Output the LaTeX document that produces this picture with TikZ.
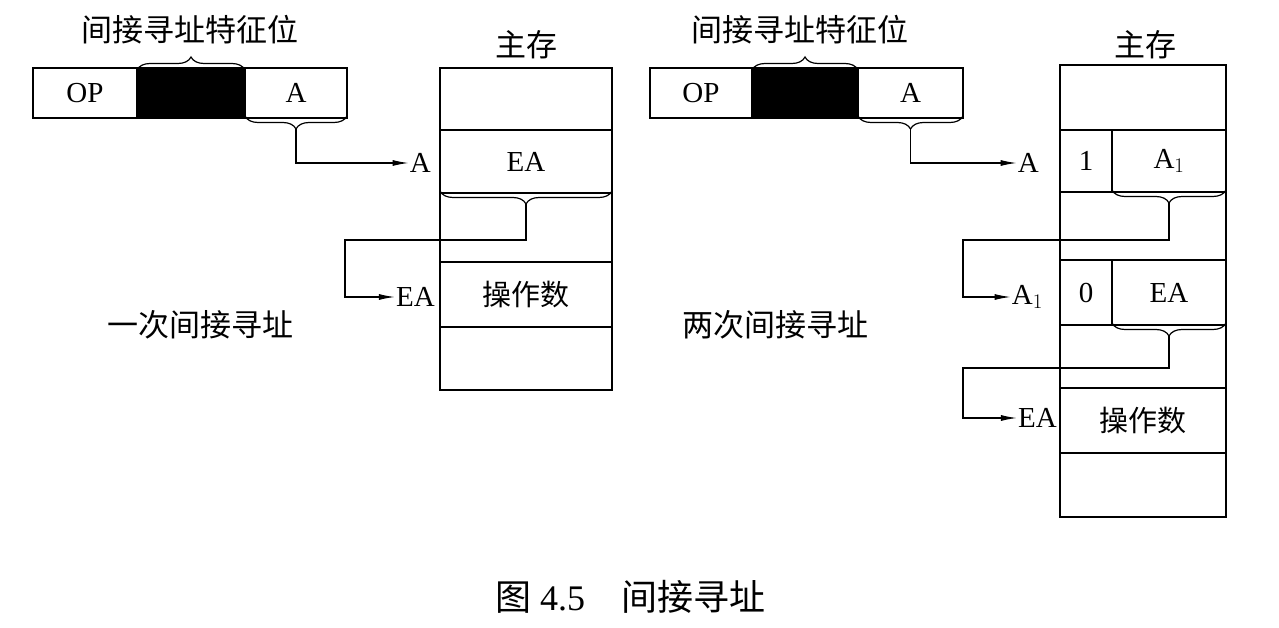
\documentclass[tikz,border=0pt]{standalone}
\usepackage{fontspec}
\setmainfont{Liberation Serif}
\newfontfamily\cjk{Noto Sans CJK SC}
\usetikzlibrary{decorations.pathreplacing,arrows.meta}
\begin{document}
\begin{tikzpicture}[x=1pt,y=-1pt,
 cell/.style={draw,line width=1.3pt,anchor=north west,inner sep=0,outer sep=0,font=\fontsize{29}{30}\selectfont},
 lbl/.style={font=\fontsize{29}{30}\selectfont,inner sep=1pt},
 cjkl/.style={font=\cjk\fontsize{31}{33}\selectfont,inner sep=1pt},
 brc/.style={decorate,decoration={brace,amplitude=13pt},line width=1.2pt},
 conn/.style={line width=1.2pt,-{Latex[length=16pt,width=6pt]}}]
\useasboundingbox (0,0) rectangle (1279,628);
\fill[white] (0,0) rectangle (1279,628);
% ---- left ----
\node[cell,minimum width=104,minimum height=50] (lop) at (33,68) {OP};
\node[cell,fill=black,minimum width=108,minimum height=50] (lblk) at (137,68) {};
\node[cell,minimum width=102,minimum height=50] (la) at (245,68) {A};
\node[cjkl] (ltit) at (190,30) {间接寻址特征位};
\draw[brc] ([yshift=-2]lblk.north west) -- ([yshift=-2]lblk.north east);
\draw[brc] ([yshift=2]la.south east) -- ([yshift=2]la.south west) coordinate[midway,yshift=-13] (lt1);
\node[cjkl] (lmt) at (526,45) {主存};
\node[cell,minimum width=172,minimum height=62] (lm1) at (440,68) {};
\node[cell,minimum width=172,minimum height=63] (lm2) at (440,130) {EA};
\node[cell,minimum width=172,minimum height=69] (lm3) at (440,193) {};
\node[cell,minimum width=172,minimum height=65,font=\cjk\fontsize{29}{30}\selectfont] (lm4) at (440,262) {操作数};
\node[cell,minimum width=172,minimum height=63] (lm5) at (440,327) {};
\node[lbl,anchor=east] (lA) at (432,163) {A};
\node[lbl,anchor=east] (lEA) at (436,297) {EA};
\draw[brc] ([yshift=2]lm2.south east) -- ([yshift=2]lm2.south west) coordinate[midway,yshift=-13] (lt2);
\draw[conn] (lt1) |- (lA.west);
\draw[conn] (lt2) -- (lt2|-0,240) -| (345,297) -- (lEA.west);
\node[cjkl] (l1) at (200,325) {一次间接寻址};
% ---- right ----
\node[cell,minimum width=102,minimum height=50] (rop) at (650,68) {OP};
\node[cell,fill=black,minimum width=106,minimum height=50] (rblk) at (752,68) {};
\node[cell,minimum width=105,minimum height=50] (ra) at (858,68) {A};
\node[cjkl] (rtit) at (800,30) {间接寻址特征位};
\draw[brc] ([yshift=-2]rblk.north west) -- ([yshift=-2]rblk.north east);
\draw[brc] ([yshift=2]ra.south east) -- ([yshift=2]ra.south west) coordinate[midway,yshift=-13] (rt1);
\node[cjkl] (rmt) at (1145,45) {主存};
\node[cell,minimum width=166,minimum height=65] (rm1) at (1060,65) {};
\node[cell,minimum width=52,minimum height=62] (rm2a) at (1060,130) {1};
\node[cell,minimum width=114,minimum height=62] (rm2b) at (1112,130) {A$_1$};
\node[cell,minimum width=166,minimum height=68] (rm3) at (1060,192) {};
\node[cell,minimum width=52,minimum height=65] (rm4a) at (1060,260) {0};
\node[cell,minimum width=114,minimum height=65] (rm4b) at (1112,260) {EA};
\node[cell,minimum width=166,minimum height=63] (rm5) at (1060,325) {};
\node[cell,minimum width=166,minimum height=65,font=\cjk\fontsize{29}{30}\selectfont] (rm6) at (1060,388) {操作数};
\node[cell,minimum width=166,minimum height=64] (rm7) at (1060,453) {};
\node[lbl,anchor=east] (rA) at (1040,163) {A};
\node[lbl,anchor=east] (rA1) at (1044,297) {A$_1$};
\node[lbl,anchor=east] (rEA) at (1058,418) {EA};
\draw[brc] ([yshift=2]rm2b.south east) -- ([yshift=2]rm2b.south west) coordinate[midway,yshift=-13] (rt2);
\draw[brc] ([yshift=2]rm4b.south east) -- ([yshift=2]rm4b.south west) coordinate[midway,yshift=-13] (rt3);
\draw[conn] (rt1) |- (rA.west);
\draw[conn] (rt2) -- (rt2|-0,240) -| (963,297) -- (rA1.west);
\draw[conn] (rt3) -- (rt3|-0,368) -| (963,418) -- (rEA.west);
\node[cjkl] (r1) at (775,325) {两次间接寻址};
\node[inner sep=1pt,font=\fontsize{36}{38}\selectfont] (cap) at (630,597) {{\cjk 图} 4.5\quad{\cjk 间接寻址}};
\end{tikzpicture}
\end{document}
